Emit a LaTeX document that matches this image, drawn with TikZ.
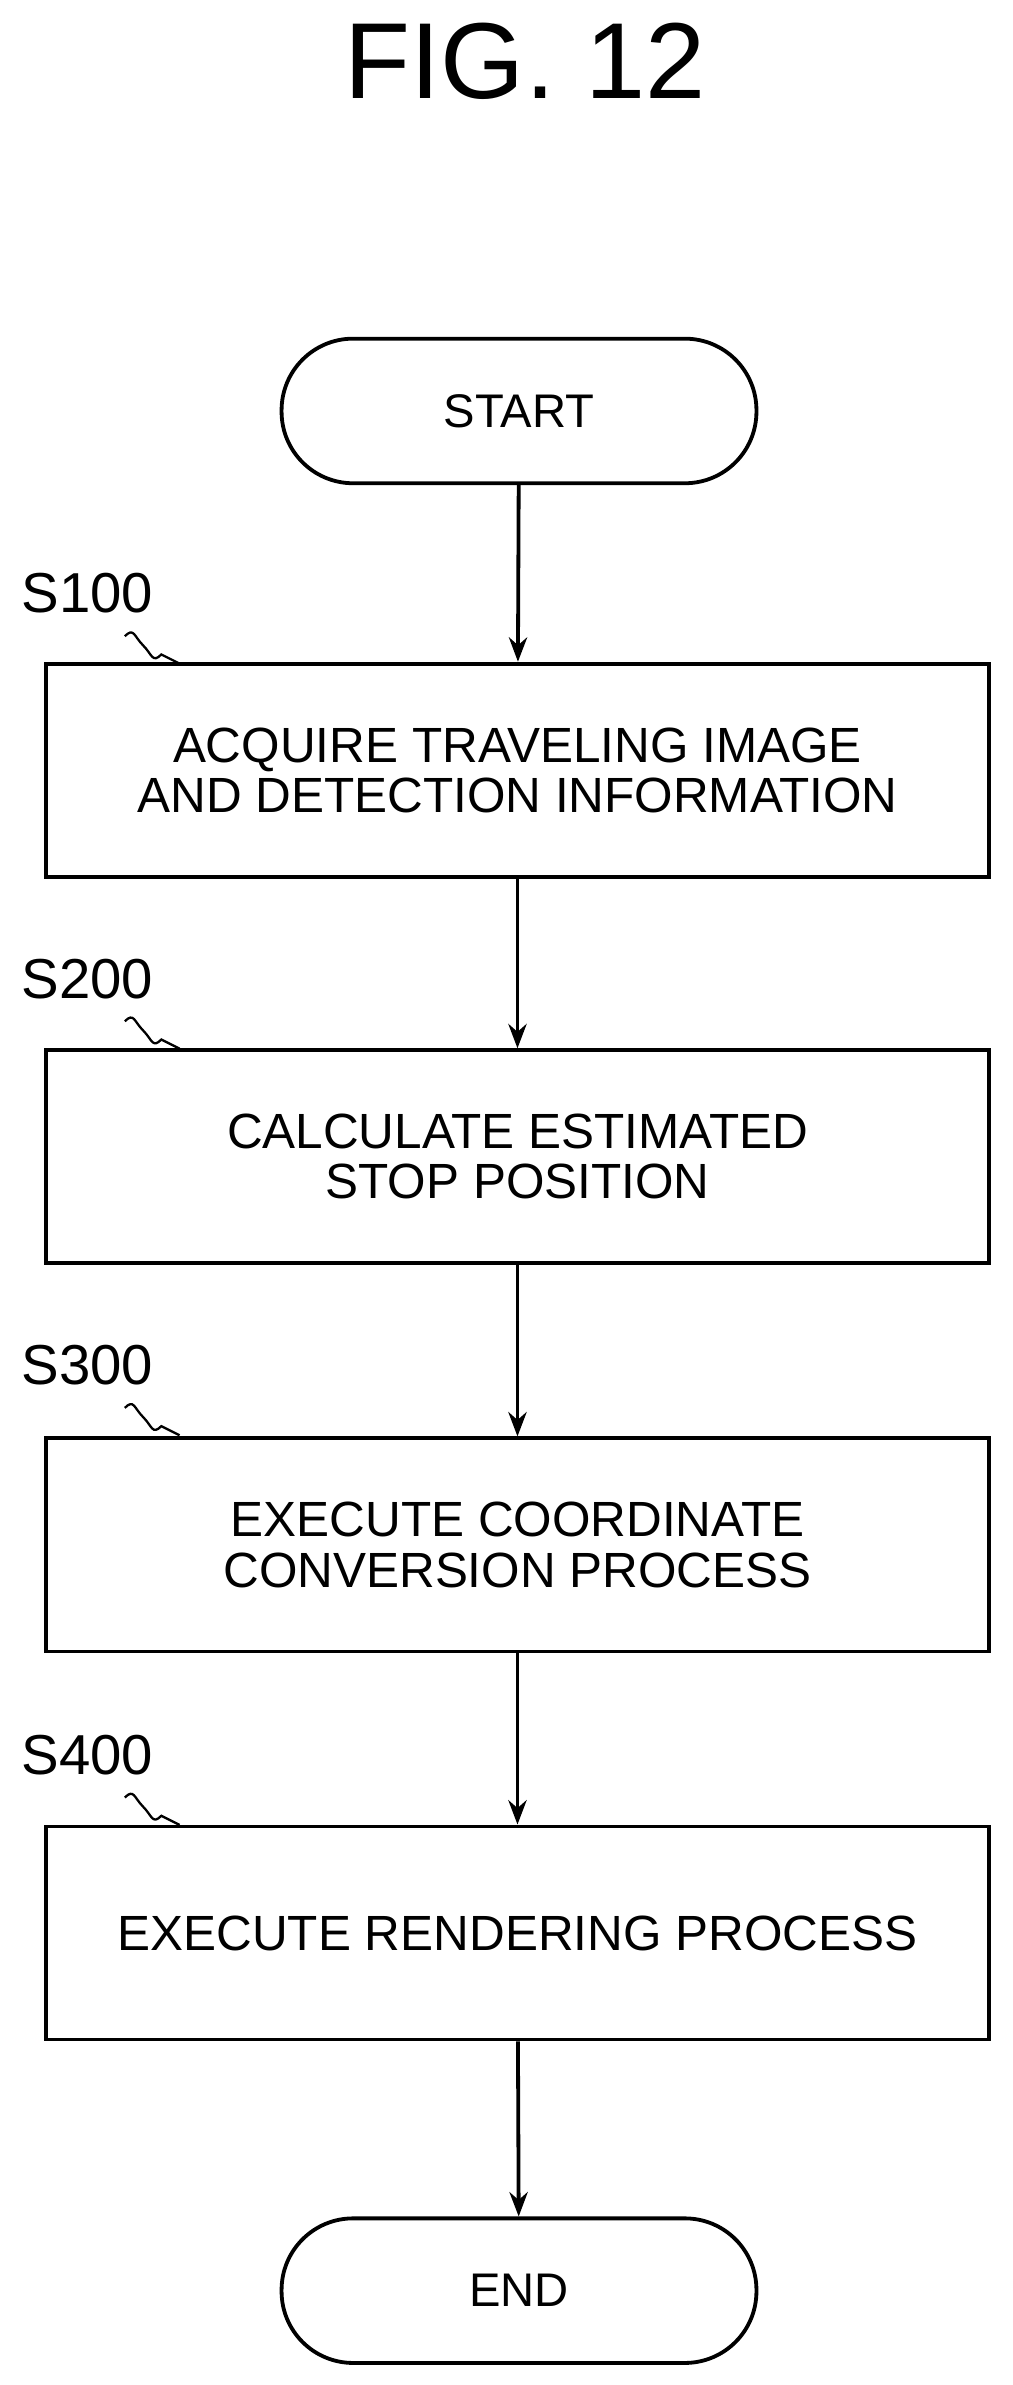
\documentclass[tikz,border=0pt]{standalone}
\usepackage{fontspec}
\usetikzlibrary{arrows.meta}
\setmainfont{Liberation Sans}
\begin{document}
\begin{tikzpicture}[x=1pt,y=-1pt,
  box/.style={draw,line width=2.5pt,minimum width=620pt,minimum height=140pt,align=center,font=\fontsize{32.5}{33}\selectfont,inner sep=0pt},
  term/.style={draw,line width=2.5pt,rounded corners=47pt,minimum width=312pt,minimum height=95pt,font=\fontsize{31}{34}\selectfont},
  lab/.style={font=\fontsize{37}{40}\selectfont,anchor=west,inner sep=0pt},
  arr/.style={line width=2.5pt,-{Stealth[length=16pt,width=12pt]}},
  sq/.style={line width=1.5pt}]
\useasboundingbox (0,0) rectangle (665,1567);
\node[font=\fontsize{71}{74}\selectfont] (title) at (345,40) {FIG. 12};
\node[term] (start) at (341,270) {START};
\node[box] (b1) at (340,506) {ACQUIRE TRAVELING IMAGE\\AND DETECTION INFORMATION};
\node[box] (b2) at (340,760) {CALCULATE ESTIMATED\\STOP POSITION};
\node[box] (b3) at (340,1015) {EXECUTE COORDINATE\\CONVERSION PROCESS};
\node[box] (b4) at (340,1270) {EXECUTE RENDERING PROCESS};
\node[term] (end) at (341,1505) {END};
\node[lab] (l1) at (14,390) {S100};
\node[lab] (l2) at (14,643) {S200};
\node[lab] (l3) at (14,897) {S300};
\node[lab] (l4) at (14,1153) {S400};
\foreach \y in {418,671,925,1181}{
  \coordinate (q) at (82,\y);
  \draw[sq] (q) .. controls ++(6,-6) and ++(-6,-6) .. ++(12,6) .. controls ++(6,6) and ++(-6,6) .. ++(12,6) -- ++(12,6);
}
\draw[arr] (start) -- (b1);
\draw[arr] (b1) -- (b2);
\draw[arr] (b2) -- (b3);
\draw[arr] (b3) -- (b4);
\draw[arr] (b4) -- (end);
\end{tikzpicture}
\end{document}
